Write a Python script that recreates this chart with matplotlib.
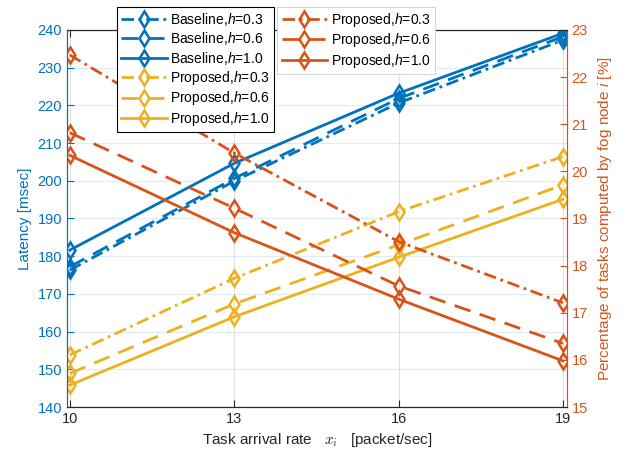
import matplotlib
matplotlib.use("Agg")
import matplotlib.pyplot as plt

plt.rcParams['font.family'] = ['Liberation Sans', 'DejaVu Sans']
plt.rcParams['mathtext.fontset'] = 'custom'
plt.rcParams['mathtext.rm'] = 'Liberation Sans'
plt.rcParams['mathtext.it'] = 'Liberation Sans:italic'

# Task arrival rate [packet/sec]
arrivalRate = [10, 13, 16, 19]

# Latency [msec] (left axis)
baseline03 = [176.3, 199.9, 220.6, 237.3]
baseline06 = [177.2, 200.6, 221.8, 238.2]
baseline10 = [181.6, 204.6, 223.2, 239.1]
proposed03 = [153.8, 174.1, 191.8, 206.4]
proposed06 = [148.9, 167.3, 183.0, 198.9]
proposed10 = [145.8, 163.9, 179.7, 195.1]

# Percentage of tasks computed by fog node i [%] (right axis)
percent03 = [22.47, 20.39, 18.51, 17.21]
percent06 = [20.82, 19.22, 17.57, 16.35]
percent10 = [20.34, 18.70, 17.29, 15.98]

BLUE = "#0072BD"
ORANGE = "#D95319"
YELLOW = "#EDB120"

# MATLAB-like dash patterns
DASHES = {'-.': (4.5, 1.7, 1.0, 1.7), '--': (6.0, 3.5), '-': None}

fig = plt.figure(figsize=(6.29, 4.53), dpi=100)
ax = fig.add_axes([0.1065, 0.1015, 0.7945, 0.8325])
ax2 = ax.twinx()

style = dict(marker='d', markersize=8, markerfacecolor='none',
             markeredgewidth=1.8, linewidth=2)


def drawLine(axis, vals, ls, color, lab):
    h, = axis.plot(arrivalRate, vals, ls, color=color, label=lab, **style)
    if DASHES[ls] is not None:
        h.set_dashes(DASHES[ls])
    return h


handles1 = []
for vals, ls, lab in [(baseline03, '-.', "Baseline,$h$=0.3"),
                      (baseline06, '--', "Baseline,$h$=0.6"),
                      (baseline10, '-', "Baseline,$h$=1.0")]:
    handles1.append(drawLine(ax, vals, ls, BLUE, lab))
for vals, ls, lab in [(proposed03, '-.', "Proposed,$h$=0.3"),
                      (proposed06, '--', "Proposed,$h$=0.6"),
                      (proposed10, '-', "Proposed,$h$=1.0")]:
    handles1.append(drawLine(ax, vals, ls, YELLOW, lab))

handles2 = []
for vals, ls, lab in [(percent03, '-.', "Proposed,$h$=0.3"),
                      (percent06, '--', "Proposed,$h$=0.6"),
                      (percent10, '-', "Proposed,$h$=1.0")]:
    handles2.append(drawLine(ax2, vals, ls, ORANGE, lab))

ax.set_xlim(9.95, 19.07)
ax.set_ylim(140, 240)
ax2.set_ylim(15, 23)
ax.set_xticks(arrivalRate)
ax.set_yticks(range(140, 241, 10))
ax2.set_yticks(range(15, 24))

ax.grid(axis='x', color='#262626', alpha=0.13, linewidth=0.8)
ax.grid(axis='y', color=BLUE, alpha=0.13, linewidth=0.8)
ax.set_axisbelow(True)

ax.tick_params(axis='x', direction='in', top=True, colors='#262626',
               labelsize=10.5, length=5)
ax.tick_params(axis='y', direction='in', colors=BLUE, labelsize=10.5, length=5)
ax2.tick_params(axis='y', direction='in', colors=ORANGE, labelsize=10.5, length=5)

for a in (ax, ax2):
    a.spines['bottom'].set_color('#262626')
    a.spines['top'].set_color('#262626')
    a.spines['left'].set_color(BLUE)
    a.spines['right'].set_color(ORANGE)

ax.set_ylabel("Latency [msec]", color=BLUE, fontsize=11, labelpad=4)
ax2.set_ylabel("Percentage of tasks computed by fog node $i$ [%]",
               color=ORANGE, fontsize=11, labelpad=6)
ax.set_xlabel("Task arrival rate   $x_i$   [packet/sec]", color='#262626',
              fontsize=11, labelpad=4)
ax.xaxis.label.set_math_fontfamily('cm')

legendStyle = dict(loc='upper left', fontsize=10, fancybox=False,
                   framealpha=1, handlelength=3.3, labelspacing=0.17,
                   borderpad=0.3, handletextpad=0.25, borderaxespad=0)
leg1 = fig.legend(handles=handles1, bbox_to_anchor=(0.186, 0.985),
                  edgecolor='black', **legendStyle)
leg1.get_frame().set_linewidth(0.8)
leg2 = fig.legend(handles=handles2, bbox_to_anchor=(0.441, 0.985),
                  edgecolor='#cccccc', **legendStyle)
leg2.get_frame().set_linewidth(0.6)

fig.savefig("out.png", dpi=100)
